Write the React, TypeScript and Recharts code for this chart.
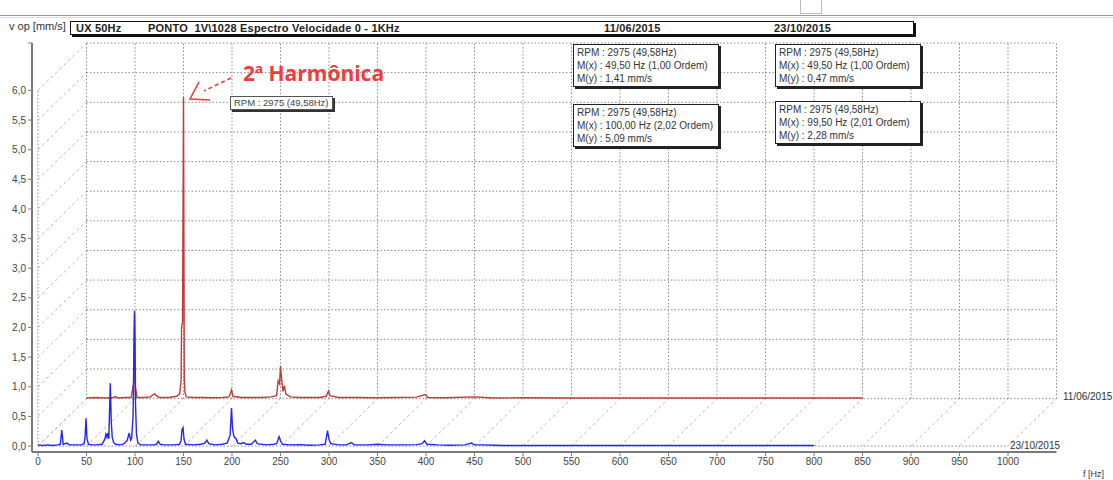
import {
  ComposedChart,
  Line,
  XAxis,
  YAxis,
  ReferenceLine,
} from 'recharts';

// Waterfall spectrum: two velocity spectra, the older one drawn on a plane
// shifted back by DEPTH_F Hz / DEPTH_V mm/s.
const DEPTH_F = 50;
const DEPTH_V = 0.8;

const X_TICKS = [0, 50, 100, 150, 200, 250, 300, 350, 400, 450, 500, 550, 600, 650, 700, 750, 800, 850, 900, 950, 1000];
const Y_TICKS = [0, 0.5, 1, 1.5, 2, 2.5, 3, 3.5, 4, 4.5, 5, 5.5, 6];

const RPM_TEXT = 'RPM : 2975 (49,58Hz)';

// cursor readouts
const RED_1X = 1.41;
const BLUE_1X = 0.47;
const RED_2X = 5.09;
const BLUE_2X = 2.28;

const MARK_FREQ = [49.5, 49.5, 100.0, 99.5];
const MARK_ORDER = [1.0, 1.0, 2.02, 2.01];
const MARK_AMP = [RED_1X, BLUE_1X, RED_2X, BLUE_2X];

// 11/06/2015 spectrum [Hz, mm/s]
const RED_1106: [number, number][] = [
  [0, 0.01], [10, 0.02], [20, 0.01], [28, 0.02], [30, 0.04], [32, 0.01], [40, 0.02], [46, 0.02],
  [48.5, 0.25], [49.5, RED_1X], [50.5, 0.2], [52, 0.02], [60, 0.02], [66, 0.03], [68, 0.06],
  [70, 0.08], [72, 0.05], [75, 0.02], [85, 0.02], [93, 0.04], [96, 0.08], [97.5, 0.3], [98, 1.2],
  [99, 1.3], [100, RED_2X], [100.8, 0.35], [101.5, 0.1], [103, 0.03], [110, 0.02], [120, 0.02],
  [130, 0.015], [140, 0.02], [147, 0.03], [149.5, 0.15], [151, 0.04], [160, 0.02], [170, 0.02],
  [180, 0.02], [190, 0.03], [196, 0.05], [197.5, 0.3], [199, 0.25], [200, 0.55], [201, 0.35],
  [202.5, 0.12], [204, 0.22], [205.5, 0.08], [210, 0.03], [220, 0.02], [230, 0.02], [240, 0.02],
  [247, 0.04], [249.5, 0.13], [251, 0.05], [260, 0.02], [280, 0.02], [300, 0.015], [320, 0.02],
  [340, 0.025], [349.5, 0.07], [352, 0.02], [370, 0.015], [399.5, 0.03], [420, 0.01], [450, 0.015],
  [500, 0.01], [800, 0.01],
];

// 23/10/2015 spectrum [Hz, mm/s]
const BLUE_2310: [number, number][] = [
  [0, 0.02], [5, 0.01], [10, 0.02], [15, 0.01], [20, 0.02], [23, 0.03], [24.5, 0.27], [26, 0.03],
  [30, 0.05], [32, 0.02], [40, 0.02], [45, 0.02], [47.5, 0.04], [48.5, 0.15], [49.5, BLUE_1X],
  [50.5, 0.12], [52, 0.03], [56, 0.02], [60, 0.02], [66, 0.03], [69, 0.12], [70, 0.2], [71, 0.15],
  [72, 0.22], [73, 0.12], [74.5, 1.06], [75.5, 0.42], [76.5, 0.15], [78, 0.06], [80, 0.03],
  [85, 0.02], [89, 0.04], [92, 0.1], [94, 0.22], [95.5, 0.1], [96.5, 0.13], [98, 0.5],
  [99.5, BLUE_2X], [100.5, 0.72], [101.5, 0.2], [103, 0.05], [106, 0.02], [115, 0.02], [120, 0.02],
  [122, 0.03], [124, 0.08], [126, 0.03], [130, 0.02], [140, 0.02], [146, 0.03], [147.5, 0.1],
  [148.5, 0.28], [149.5, 0.31], [150.5, 0.12], [152, 0.03], [160, 0.02], [168, 0.03], [172, 0.05],
  [174, 0.1], [176, 0.04], [182, 0.02], [190, 0.03], [195, 0.05], [198, 0.18], [199.5, 0.64],
  [200.5, 0.3], [202, 0.16], [204, 0.13], [206, 0.05], [209, 0.04], [212, 0.06], [215, 0.03],
  [220, 0.03], [224, 0.1], [226, 0.04], [235, 0.02], [243, 0.03], [246, 0.04], [248.5, 0.16],
  [250, 0.09], [252, 0.03], [260, 0.02], [270, 0.025], [280, 0.015], [290, 0.02], [296, 0.03],
  [298.5, 0.26], [300, 0.11], [302, 0.04], [310, 0.02], [318, 0.02], [323, 0.06], [326, 0.02],
  [340, 0.02], [350, 0.03], [360, 0.02], [375, 0.02], [390, 0.025], [396, 0.04], [398.5, 0.09],
  [401, 0.03], [412, 0.02], [425, 0.015], [440, 0.02], [447, 0.05], [450, 0.02], [458, 0.02],
  [470, 0.015], [480, 0.01], [600, 0.01], [800, 0.01],
];

const backData = RED_1106.map(([f, v]) => ({ f: f + DEPTH_F, v: v + DEPTH_V }));
const frontData = BLUE_2310.map(([f, v]) => ({ f, v }));

// readout boxes: which marker, where
const BOXES = [
  { i: 0, left: 573, top: 44 },
  { i: 1, left: 775, top: 44 },
  { i: 2, left: 573, top: 104 },
  { i: 3, left: 775, top: 101 },
];

const FONT = '"Liberation Sans", Arial, sans-serif';
const dec = (n: number, d: number) => n.toFixed(d).replace('.', ',');

const DOT = { stroke: '#8a8a8a', strokeDasharray: '1.5 2', strokeWidth: 1 };
const DIAG = { stroke: '#b8b8b8', strokeDasharray: '3 3', strokeWidth: 1 };

function ReadoutBox({ i, left, top }: { i: number; left: number; top: number }) {
  return (
    <div style={{
      position: 'absolute', left, top, width: 138, padding: '1px 3px',
      background: '#fff', border: '1px solid #222', boxShadow: '2px 2px 0 #222',
      fontFamily: FONT, fontSize: 10, lineHeight: '13px', color: '#333', whiteSpace: 'nowrap',
    }}>
      <div>{RPM_TEXT}</div>
      <div>M(x) : {dec(MARK_FREQ[i], 2)} Hz ({dec(MARK_ORDER[i], 2)} Ordem)</div>
      <div>M(y) : {dec(MARK_AMP[i], 2)} mm/s</div>
    </div>
  );
}

export default function App() {
  return (
    <div style={{ position: 'absolute', left: 0, top: 0, width: 1113, height: 480, overflow: 'hidden', background: '#fff', fontFamily: FONT }}>
      {/* window strip */}
      <div style={{ position: 'absolute', left: 0, top: 15, width: 1113, height: 1, background: '#9a9a9a' }} />
      <div style={{ position: 'absolute', left: 0, top: 17, width: 1113, height: 1, background: '#dcdcdc' }} />
      <div style={{ position: 'absolute', left: 800, top: 0, width: 20, height: 13, borderLeft: '1px solid #bbb', borderRight: '1px solid #bbb', borderBottom: '1px solid #bbb' }} />

      <ComposedChart width={1113} height={480} margin={{ top: 43, right: 56.5, left: 0, bottom: 0 }}>
        <XAxis
          type="number" dataKey="f" domain={[-6.2, 1050]} ticks={X_TICKS} allowDataOverflow
          height={28} tickSize={4} tickMargin={2} interval={0}
          axisLine={{ stroke: '#7a7a7a', strokeWidth: 2 }} tickLine={{ stroke: '#7a7a7a' }}
          tick={{ fontSize: 10, fill: '#444', fontFamily: FONT }}
        />
        <YAxis
          type="number" dataKey="v" domain={[-0.1, 6.8]} ticks={[...Y_TICKS, 6.8]} allowDataOverflow
          width={32} tickSize={4} tickMargin={2} interval={0}
          tickFormatter={(v: number) => (v > 6.5 ? '' : dec(v, 1))}
          axisLine={{ stroke: '#7a7a7a', strokeWidth: 2 }} tickLine={{ stroke: '#7a7a7a' }}
          tick={{ fontSize: 10, fill: '#444', fontFamily: FONT }}
        />

        {/* diagonals joining the two planes */}
        {Y_TICKS.map(v => (
          <ReferenceLine key={`dy${v}`} segment={[{ x: 0, y: v }, { x: DEPTH_F, y: v + DEPTH_V }]} {...DIAG} ifOverflow="visible" />
        ))}
        {X_TICKS.map(f => (
          <ReferenceLine key={`dx${f}`} segment={[{ x: f, y: 0 }, { x: f + DEPTH_F, y: DEPTH_V }]} {...DIAG} ifOverflow="visible" />
        ))}

        {/* back plane grid */}
        {Y_TICKS.map(v => (
          <ReferenceLine key={`bh${v}`} segment={[{ x: DEPTH_F, y: v + DEPTH_V }, { x: 1000 + DEPTH_F, y: v + DEPTH_V }]} {...DOT} ifOverflow="visible" />
        ))}
        {X_TICKS.map(f => (
          <ReferenceLine key={`bv${f}`} segment={[{ x: f + DEPTH_F, y: DEPTH_V }, { x: f + DEPTH_F, y: 6 + DEPTH_V }]} {...DOT} ifOverflow="visible" />
        ))}

        {/* front plane edges */}
        <ReferenceLine segment={[{ x: 0, y: 0 }, { x: 0, y: 6 }]} {...DOT} ifOverflow="visible" />
        <ReferenceLine segment={[{ x: 0, y: 0 }, { x: 1000, y: 0 }]} {...DOT} ifOverflow="visible" />

        <Line data={backData} dataKey="v" type="linear" stroke="#c23b3b" strokeWidth={1.4} dot={false} isAnimationActive={false} />
        <Line data={frontData} dataKey="v" type="linear" stroke="#2626f2" strokeWidth={1.4} dot={false} isAnimationActive={false} />
      </ComposedChart>

      {/* axis title and header */}
      <div style={{ position: 'absolute', left: 9, top: 20, fontSize: 11, color: '#333' }}>v op [mm/s]</div>
      <div style={{
        position: 'absolute', left: 70, top: 21, width: 842, height: 12,
        border: '1px solid #111', boxShadow: '2px 2px 0 #111', background: '#fff',
        fontSize: 11, fontWeight: 700, lineHeight: '12px', color: '#222', letterSpacing: 0.2,
      }}>
        <span style={{ position: 'absolute', left: 5 }}>UX 50Hz</span>
        <span style={{ position: 'absolute', left: 77 }}>PONTO&nbsp;&nbsp;1V\1028 Espectro Velocidade 0 - 1KHz</span>
        <span style={{ position: 'absolute', left: 533 }}>11/06/2015</span>
        <span style={{ position: 'absolute', left: 703 }}>23/10/2015</span>
      </div>

      {BOXES.map(b => <ReadoutBox key={b.i} {...b} />)}

      {/* cursor tag on the 2x peak */}
      <div style={{
        position: 'absolute', left: 230, top: 96, padding: '0 3px', height: 12,
        border: '1px solid #555', boxShadow: '2px 2px 0 #333', background: '#fff',
        fontSize: 9.5, lineHeight: '12px', color: '#444', whiteSpace: 'nowrap',
      }}>{RPM_TEXT}</div>

      <div style={{
        position: 'absolute', left: 243, top: 59, fontFamily: '"Open Sans", sans-serif',
        fontSize: 21, fontWeight: 700, color: '#f03c3c', whiteSpace: 'nowrap',
      }}>2ª Harmônica</div>
      <svg width={1113} height={480} style={{ position: 'absolute', left: 0, top: 0, pointerEvents: 'none' }}>
        <line x1={231} y1={78} x2={204} y2={91} stroke="#f03c3c" strokeWidth={1.6} strokeDasharray="4 3" />
        <polyline points="199,82 190,99 210,100" fill="none" stroke="#f03c3c" strokeWidth={1.6} />
      </svg>

      {/* plane labels */}
      <div style={{ position: 'absolute', left: 1063, top: 391, fontSize: 10, color: '#333', whiteSpace: 'nowrap' }}>11/06/2015</div>
      <div style={{ position: 'absolute', left: 1010, top: 440, fontSize: 10, color: '#333', whiteSpace: 'nowrap' }}>23/10/2015</div>
      <div style={{ position: 'absolute', left: 1083, top: 469, fontSize: 9, color: '#333' }}>f [Hz]</div>
    </div>
  );
}
